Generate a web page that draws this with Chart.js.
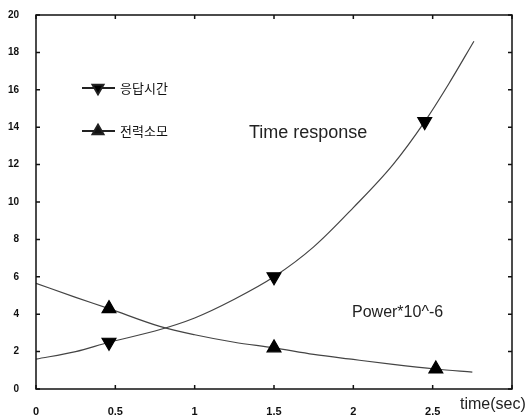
<!DOCTYPE html>
<html>
<head>
<meta charset="utf-8">
<script src="https://cdn.jsdelivr.net/npm/chart.js@4/dist/chart.umd.min.js"></script>
<style>
  html, body { margin: 0; padding: 0; background: #fff; }
  #wrap { width: 531px; height: 419px; }
</style>
</head>
<body>
<div id="wrap"><canvas id="c" width="531" height="419"></canvas></div>
<script>
// Response time curve (sampled along the drawn curve)
const respX = [0, 0.25, 0.46, 0.75, 1.0, 1.25, 1.5, 1.75, 2.0, 2.25, 2.45, 2.6, 2.76];
const respY = [1.6, 2.0, 2.5, 3.1, 3.8, 4.8, 6.0, 7.6, 9.7, 12.0, 14.3, 16.3, 18.6];
const respMarkX = [0.46, 1.5, 2.45];

// Power consumption curve (x 10^-6)
const powX = [0, 0.25, 0.46, 0.78, 1.0, 1.25, 1.5, 1.75, 2.0, 2.25, 2.52, 2.75];
const powY = [5.65, 4.9, 4.3, 3.35, 2.9, 2.5, 2.2, 1.85, 1.58, 1.32, 1.07, 0.9];
const powMarkX = [0.46, 1.5, 2.52];

const seriesLabels = ['응답시간', '전력소모'];
const xTicks = [0, 0.5, 1, 1.5, 2, 2.5, 3];
const yTicks = [0, 2, 4, 6, 8, 10, 12, 14, 16, 18, 20];
const xTitle = 'time(sec)';
const notes = ['Time response', 'Power*10^-6'];

const toPts = (xs, ys) => xs.map((x, i) => ({ x, y: ys[i] }));
const markRadius = (marks) => (ctx) => marks.includes(ctx.raw && ctx.raw.x) ? 8 : 0;

// Box, inward ticks, in-plot legend and text notes
const frame = {
  id: 'frame',
  afterDraw(chart) {
    const { ctx, chartArea: a, scales: { x, y } } = chart;
    ctx.save();
    ctx.strokeStyle = '#111';
    ctx.lineWidth = 1.5;
    ctx.strokeRect(a.left, a.top, a.right - a.left, a.bottom - a.top);
    ctx.beginPath();
    xTicks.forEach(v => {
      const px = x.getPixelForValue(v);
      ctx.moveTo(px, a.bottom); ctx.lineTo(px, a.bottom - 4);
      ctx.moveTo(px, a.top); ctx.lineTo(px, a.top + 4);
    });
    yTicks.forEach(v => {
      const py = y.getPixelForValue(v);
      ctx.moveTo(a.left, py); ctx.lineTo(a.left + 4, py);
      ctx.moveTo(a.right, py); ctx.lineTo(a.right - 4, py);
    });
    ctx.stroke();

    // legend inside the plot
    const rows = [
      { label: chart.data.datasets[0].label, rot: 180, y: 88 },
      { label: chart.data.datasets[1].label, rot: 0, y: 131 }
    ];
    rows.forEach(r => {
      ctx.strokeStyle = '#222';
      ctx.lineWidth = 1.8;
      ctx.beginPath();
      ctx.moveTo(82, r.y); ctx.lineTo(115, r.y);
      ctx.stroke();
      Chart.helpers.drawPoint(ctx, { pointStyle: 'triangle', rotation: r.rot, radius: 6.5, borderWidth: 1 }, 98, r.y);
      ctx.fillStyle = '#111';
      ctx.font = '13px "Noto Sans CJK KR", "Noto Sans", sans-serif';
      ctx.textBaseline = 'middle';
      ctx.textAlign = 'left';
      ctx.fillText(r.label, 120, r.y);
    });

    ctx.fillStyle = '#222';
    ctx.textBaseline = 'middle';
    ctx.font = '18px "Liberation Sans", sans-serif';
    ctx.fillText(notes[0], 249, 133);
    ctx.font = '16px "Liberation Sans", sans-serif';
    ctx.fillText(notes[1], 352, 313);
    ctx.font = '16px "Liberation Sans", sans-serif';
    ctx.fillText(xTitle, 460, 405);
    ctx.restore();
  }
};

new Chart(document.getElementById('c'), {
  type: 'line',
  data: {
    datasets: [
      {
        label: seriesLabels[0],
        data: toPts(respX, respY),
        borderColor: '#444',
        borderWidth: 1.2,
        cubicInterpolationMode: 'monotone',
        pointStyle: 'triangle',
        rotation: 180,
        pointRadius: markRadius(respMarkX),
        pointBackgroundColor: '#000',
        pointBorderColor: '#000',
        pointHoverRadius: 0
      },
      {
        label: seriesLabels[1],
        data: toPts(powX, powY),
        borderColor: '#444',
        borderWidth: 1.2,
        cubicInterpolationMode: 'monotone',
        pointStyle: 'triangle',
        pointRadius: markRadius(powMarkX),
        pointBackgroundColor: '#000',
        pointBorderColor: '#000',
        pointHoverRadius: 0
      }
    ]
  },
  options: {
    responsive: false,
    animation: false,
    events: [],
    layout: { padding: { top: 14, right: 19, left: 0, bottom: 0 } },
    plugins: { legend: { display: false }, tooltip: { enabled: false } },
    scales: {
      x: {
        type: 'linear',
        min: 0, max: 3,
        afterBuildTicks: (s) => { s.ticks = xTicks.map(v => ({ value: v })); },
        afterFit: (s) => { s.height = 30; },
        grid: { display: false },
        border: { display: false },
        ticks: {
          padding: 8,
          color: '#111',
          font: { family: 'Liberation Sans', size: 11, weight: 'bold' },
          callback: (v) => v === 3 ? '' : String(v)
        }
      },
      y: {
        min: 0, max: 20,
        afterBuildTicks: (s) => { s.ticks = yTicks.map(v => ({ value: v })); },
        afterFit: (s) => { s.width = 36; },
        grid: { display: false },
        border: { display: false },
        ticks: {
          padding: 9,
          color: '#111',
          font: { family: 'Liberation Sans', size: 10, weight: 'bold' }
        }
      }
    }
  },
  plugins: [frame]
});
</script>
</body>
</html>
